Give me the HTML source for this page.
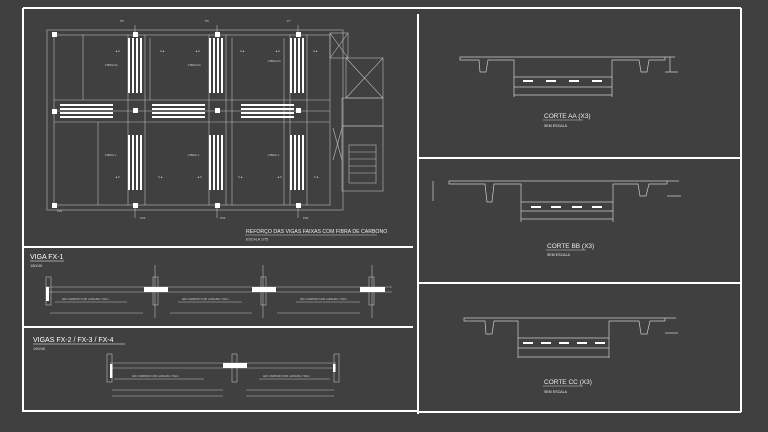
<!DOCTYPE html>
<html><head><meta charset="utf-8"><style>
html,body{margin:0;padding:0;background:#404040;}
svg{display:block;font-family:"Liberation Sans",sans-serif;}
</style></head><body>
<svg width="768" height="432" viewBox="0 0 768 432" xmlns="http://www.w3.org/2000/svg">
<rect width="768" height="432" fill="#404040"/>
<defs>
<g id="vstrip"><rect x="0" y="0" width="2" height="55" fill="#fff"/><rect x="4" y="0" width="2" height="55" fill="#fff"/><rect x="8" y="0" width="2" height="55" fill="#fff"/><rect x="12" y="0" width="2" height="55" fill="#fff"/></g>
<g id="hstrip"><rect x="0" y="0" width="53" height="2" fill="#fff"/><rect x="0" y="4" width="53" height="2" fill="#fff"/><rect x="0" y="8" width="53" height="2" fill="#fff"/><rect x="0" y="12" width="53" height="2" fill="#fff"/></g>
</defs>
<!-- frames -->
<g stroke="#fff" stroke-width="2" fill="none">
<line x1="23" y1="8" x2="741" y2="8"/>
<line x1="23" y1="8" x2="23" y2="412"/>
<line x1="23" y1="247" x2="413" y2="247"/>
<line x1="23" y1="327" x2="413" y2="327"/>
<line x1="23" y1="411" x2="418" y2="411"/>
<line x1="418" y1="14" x2="418" y2="414"/>
<line x1="741" y1="8" x2="741" y2="412"/>
<line x1="418" y1="158" x2="742" y2="158"/>
<line x1="418" y1="283" x2="742" y2="283"/>
<line x1="418" y1="412" x2="741" y2="412"/>
</g>
<!-- plan -->
<g stroke="#bbb" stroke-width="0.6" fill="none">
<rect x="47" y="30" width="296" height="180"/>
<rect x="54" y="35" width="276" height="170"/>
<line x1="54" y1="111" x2="330" y2="111"/>
<line x1="54" y1="122" x2="330" y2="122"/>
<line x1="54" y1="100" x2="330" y2="100"/>
<line x1="128" y1="35" x2="128" y2="205"/>
<line x1="145" y1="35" x2="145" y2="205"/>
<line x1="209" y1="35" x2="209" y2="205"/>
<line x1="226" y1="35" x2="226" y2="205"/>
<line x1="290" y1="35" x2="290" y2="205"/>
<line x1="307" y1="35" x2="307" y2="205"/>
<line x1="83" y1="35" x2="83" y2="100"/>
<line x1="98" y1="122" x2="98" y2="205"/>
<line x1="150" y1="38" x2="150" y2="100"/>
<line x1="232" y1="38" x2="232" y2="205"/>
<line x1="284" y1="38" x2="284" y2="205"/>
<rect x="330" y="33" width="18" height="25"/>
<rect x="346" y="58" width="37" height="40"/>
<rect x="342" y="98" width="41" height="28"/>
<rect x="342" y="126" width="41" height="65"/>
<rect x="349" y="145" width="27" height="38"/>
<line x1="346" y1="58" x2="383" y2="98"/><line x1="383" y1="58" x2="346" y2="98"/>
<line x1="330" y1="33" x2="348" y2="58"/><line x1="348" y1="33" x2="330" y2="58"/>
<line x1="333" y1="128" x2="342" y2="160"/><line x1="342" y1="128" x2="333" y2="160"/>
<line x1="349" y1="152" x2="376" y2="152"/><line x1="349" y1="159" x2="376" y2="159"/><line x1="349" y1="166" x2="376" y2="166"/><line x1="349" y1="173" x2="376" y2="173"/>
<line x1="135" y1="25" x2="135" y2="34"/><line x1="217" y1="25" x2="217" y2="34"/><line x1="298" y1="25" x2="298" y2="34"/>
<line x1="135" y1="205" x2="135" y2="218"/><line x1="217" y1="205" x2="217" y2="218"/><line x1="298" y1="205" x2="298" y2="218"/>
</g>
<g fill="#fff">
<rect x="52" y="32" width="5" height="5"/><rect x="133" y="32" width="5" height="5"/><rect x="215" y="32" width="5" height="5"/><rect x="296" y="32" width="5" height="5"/>
<rect x="52" y="109" width="5" height="5"/><rect x="133" y="108" width="5" height="5"/><rect x="215" y="108" width="5" height="5"/><rect x="296" y="108" width="5" height="5"/>
<rect x="52" y="203" width="5" height="5"/><rect x="133" y="203" width="5" height="5"/><rect x="215" y="203" width="5" height="5"/><rect x="296" y="203" width="5" height="5"/>
</g>
<use href="#vstrip" x="128" y="38"/><use href="#vstrip" x="209" y="38"/><use href="#vstrip" x="290" y="38"/>
<use href="#vstrip" x="128" y="135" transform="translate(0,0)"/><use href="#vstrip" x="209" y="135"/><use href="#vstrip" x="290" y="135"/>
<g transform="translate(0,14)"><use href="#vstrip" x="128" y="121" opacity="0"/></g>
<use href="#hstrip" x="60" y="104"/><use href="#hstrip" x="152" y="104"/><use href="#hstrip" x="241" y="104"/>
<g fill="#ccc" font-size="3">
<text x="105" y="66">FIBRA 01</text><text x="188" y="66">FIBRA 01</text><text x="268" y="62">FIBRA 01</text>
<text x="105" y="156">FIBRA 1</text><text x="188" y="156">FIBRA 1</text><text x="268" y="156">FIBRA 1</text>
<text x="115" y="52">▲A</text><text x="160" y="52">A▲</text><text x="195" y="52">▲A</text><text x="240" y="52">A▲</text><text x="275" y="52">▲A</text><text x="313" y="52">A▲</text>
<text x="115" y="178">▲C</text><text x="158" y="178">C▲</text><text x="197" y="178">▲C</text><text x="238" y="178">C▲</text><text x="277" y="178">▲C</text><text x="314" y="178">C▲</text>
<text x="120" y="22">P5</text><text x="205" y="22">P6</text><text x="287" y="22">P7</text>
<text x="57" y="212">P22</text><text x="140" y="219">P23</text><text x="220" y="219">P24</text><text x="303" y="219">P25</text>
</g>
<text x="246" y="233" fill="#eee" font-size="5.2">REFORÇO DAS VIGAS FAIXAS COM FIBRA DE CARBONO</text>
<line x1="245" y1="235" x2="377" y2="235" stroke="#ccc" stroke-width="0.6"/>
<text x="246" y="240.5" fill="#ddd" font-size="3.6">ESCALA 1/75</text>
<!-- FX-1 -->
<text x="30" y="259" fill="#fff" font-size="7">VIGA FX-1</text>
<line x1="30" y1="261" x2="64" y2="261" stroke="#fff" stroke-width="0.6"/>
<text x="30" y="267" fill="#ddd" font-size="4">180/40</text>
<g stroke="#bbb" stroke-width="0.6" fill="none">
<line x1="46" y1="287" x2="392" y2="287"/><line x1="46" y1="292" x2="392" y2="292"/>
<rect x="46" y="277" width="5" height="28"/><rect x="153" y="277" width="5" height="28"/><rect x="261" y="277" width="5" height="28"/><rect x="369" y="277" width="5" height="28"/>
<line x1="155" y1="265" x2="155" y2="318"/><line x1="263" y1="265" x2="263" y2="318"/><line x1="372" y1="265" x2="372" y2="318"/>
<line x1="55" y1="302" x2="127" y2="302"/><line x1="178" y1="302" x2="242" y2="302"/><line x1="296" y1="302" x2="360" y2="302"/>
<line x1="50" y1="313" x2="143" y2="313"/><line x1="170" y1="313" x2="252" y2="313"/><line x1="277" y1="313" x2="360" y2="313"/>
</g>
<g fill="#fff"><rect x="46" y="287" width="3" height="14"/><rect x="144" y="287" width="24" height="5"/><rect x="252" y="287" width="24" height="5"/><rect x="360" y="287" width="25" height="5"/></g>
<g fill="#ccc" font-size="2.5"><text x="62" y="300">ARC CARBONO COM LARGURA = 50cm</text><text x="182" y="300">ARC CARBONO COM LARGURA = 50cm</text><text x="300" y="300">ARC CARBONO COM LARGURA = 50cm</text></g>
<!-- FX-2 -->
<text x="33" y="342" fill="#fff" font-size="7">VIGAS FX-2 / FX-3 / FX-4</text>
<line x1="33" y1="344" x2="125" y2="344" stroke="#fff" stroke-width="0.6"/>
<text x="33" y="350" fill="#ddd" font-size="4">190/40</text>
<g stroke="#bbb" stroke-width="0.6" fill="none">
<line x1="110" y1="363" x2="336" y2="363"/><line x1="110" y1="368" x2="336" y2="368"/>
<rect x="107" y="354" width="5" height="28"/><rect x="232" y="354" width="5" height="28"/><rect x="334" y="354" width="5" height="28"/>
<line x1="114" y1="379" x2="204" y2="379"/><line x1="259" y1="379" x2="330" y2="379"/>
<line x1="112" y1="390" x2="223" y2="390"/><line x1="246" y1="390" x2="334" y2="390"/>
<line x1="112" y1="396" x2="223" y2="396"/><line x1="246" y1="396" x2="334" y2="396"/>
</g>
<g fill="#fff"><rect x="110" y="364" width="2.5" height="14"/><rect x="223" y="363" width="24" height="5"/><rect x="333" y="364" width="2.5" height="8"/></g>
<g fill="#ccc" font-size="2.5"><text x="132" y="377">ARC CARBONO COM LARGURA = 50cm</text><text x="263" y="377">ARC CARBONO COM LARGURA = 50cm</text></g>
<!-- sections -->
<g stroke="#ccc" stroke-width="0.7" fill="none">
<path transform="translate(460,57)" d="M0,0 H205 V3 H189 L187,15 H181 L179,3 H152 V20 H54 V3 H28 L26,15 H20 L19,3 H0 Z"/>
<path transform="translate(460,57)" d="M54,30 H152 M54,38 H152 M54,20 V40 M152,20 V40 M205,0 H215 M205,15 H218 M210,0 V15"/>
<path transform="translate(449,181)" d="M0,0 H218 V3 H200 L197,15 H191 L189,3 H164 V21 H72 V3 H45 L43,21 H38 L36,3 H0 Z"/>
<path transform="translate(449,181)" d="M72,30 H164 M72,38 H164 M72,21 V41 M164,21 V41 M-16,0 V20 M218,0 H230 M218,15 H232"/>
<path transform="translate(464,318)" d="M0,0 H201 V3 H186 L183,16 H177 L175,3 H145 V20 H54 V3 H30 L28,16 H22 L21,3 H0 Z"/>
<path transform="translate(464,318)" d="M54,30 H145 M54,39 H145 M54,20 V40 M145,20 V40 M201,0 H212 M201,15 H214"/>
</g>
<g fill="#fff">
<rect x="523" y="80" width="10" height="2"/><rect x="546" y="80" width="10" height="2"/><rect x="569" y="80" width="10" height="2"/><rect x="592" y="80" width="10" height="2"/>
<rect x="531" y="206" width="10" height="2"/><rect x="551" y="206" width="10" height="2"/><rect x="572" y="206" width="10" height="2"/><rect x="592" y="206" width="10" height="2"/>
<rect x="523" y="342" width="10" height="2"/><rect x="541" y="342" width="10" height="2"/><rect x="559" y="342" width="10" height="2"/><rect x="577" y="342" width="10" height="2"/><rect x="595" y="342" width="10" height="2"/>
</g>
<g fill="#eee">
<text x="544" y="118" font-size="6.5">CORTE AA  (X3)</text><text x="544" y="127" font-size="3.6">SEM ESCALA</text>
<text x="547" y="248" font-size="6.5">CORTE BB  (X3)</text><text x="547" y="256" font-size="3.6">SEM ESCALA</text>
<text x="544" y="384" font-size="6.5">CORTE CC  (X3)</text><text x="544" y="393" font-size="3.6">SEM ESCALA</text>
</g>
<g stroke="#ccc" stroke-width="0.5"><line x1="543" y1="120" x2="583" y2="120"/><line x1="546" y1="250" x2="586" y2="250"/><line x1="543" y1="386" x2="583" y2="386"/></g>
</svg>
</body></html>
